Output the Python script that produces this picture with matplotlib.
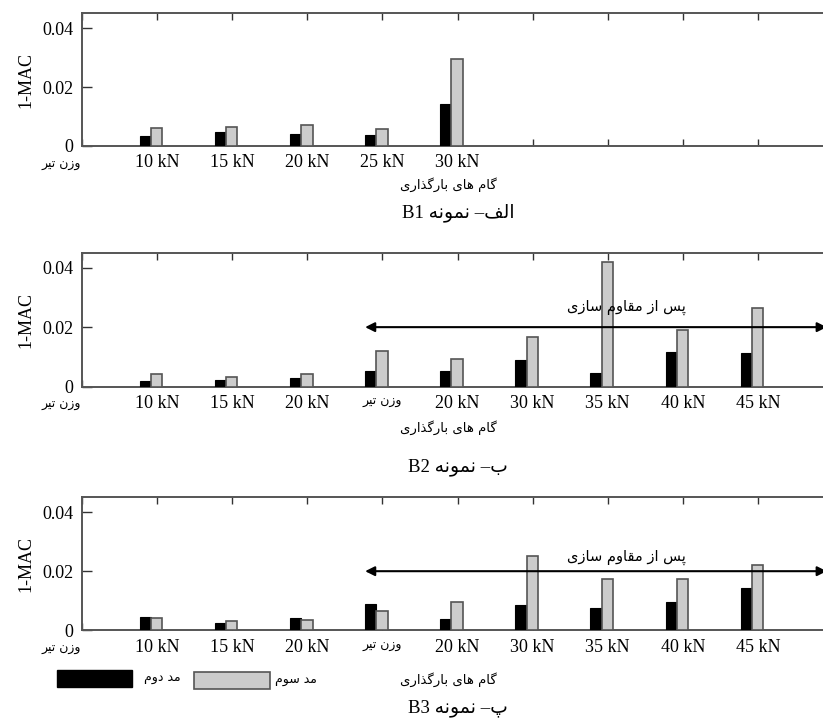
import numpy as np
import matplotlib
matplotlib.use("Agg")
import matplotlib.pyplot as plt
from matplotlib.patches import Rectangle

# ---------------- data ----------------
b1_labels = ["وزن تیر", "10 kN", "15 kN", "20 kN", "25 kN", "30 kN"]
b1_mode2 = [0.0034, 0.0047, 0.0042, 0.0038, 0.0142]
b1_mode3 = [0.0062, 0.0064, 0.0072, 0.0058, 0.0295]

b2_labels = ["وزن تیر", "10 kN", "15 kN", "20 kN", "وزن تیر", "20 kN", "30 kN", "35 kN", "40 kN", "45 kN"]
b2_mode2 = [0.0019, 0.0022, 0.0028, 0.0054, 0.0053, 0.0088, 0.0047, 0.0118, 0.0113]
b2_mode3 = [0.0044, 0.0031, 0.0044, 0.0120, 0.0093, 0.0166, 0.0419, 0.0192, 0.0264]

b3_labels = ["وزن تیر", "10 kN", "15 kN", "20 kN", "وزن تیر", "20 kN", "30 kN", "35 kN", "40 kN", "45 kN"]
b3_mode2 = [0.0044, 0.0024, 0.0043, 0.0088, 0.0038, 0.0084, 0.0076, 0.0097, 0.0142]
b3_mode3 = [0.0043, 0.0033, 0.0036, 0.0066, 0.0097, 0.0253, 0.0172, 0.0175, 0.0220]

y_ticks = [0, 0.02, 0.04]
y_ticklabels = ["0", "0.02", "0.04"]
y_label = "1-MAC"
x_title = "گام های بارگذاری"
captions = ["الف– نمونه", "ب– نمونه", "پ– نمونه"]
caption_ids = ["B1", "B2", "B3"]
after_text = "پس از مقاوم سازی"
legend_names = ["مد دوم", "مد سوم"]

# ---------------- simple Persian shaping (visual order) ----------------
FORMS = {
    'ا': (0xFE8D, 0xFE8E, None, None),
    'ب': (0xFE8F, 0xFE90, 0xFE91, 0xFE92),
    'پ': (0xFB56, 0xFB57, 0xFB58, 0xFB59),
    'ت': (0xFE95, 0xFE96, 0xFE97, 0xFE98),
    'د': (0xFEA9, 0xFEAA, None, None),
    'ذ': (0xFEAB, 0xFEAC, None, None),
    'ر': (0xFEAD, 0xFEAE, None, None),
    'ز': (0xFEAF, 0xFEB0, None, None),
    'س': (0xFEB1, 0xFEB2, 0xFEB3, 0xFEB4),
    'ف': (0xFED1, 0xFED2, 0xFED3, 0xFED4),
    'ق': (0xFED5, 0xFED6, 0xFED7, 0xFED8),
    'گ': (0xFB92, 0xFB93, 0xFB94, 0xFB95),
    'ل': (0xFEDD, 0xFEDE, 0xFEDF, 0xFEE0),
    'م': (0xFEE1, 0xFEE2, 0xFEE3, 0xFEE4),
    'ن': (0xFEE5, 0xFEE6, 0xFEE7, 0xFEE8),
    'ه': (0xFEE9, 0xFEEA, 0xFEEB, 0xFEEC),
    'و': (0xFEED, 0xFEEE, None, None),
    'ی': (0xFBFC, 0xFBFD, 0xFBFE, 0xFBFF),
}


def rtl(s):
    out = []
    for i, ch in enumerate(s):
        f = FORMS.get(ch)
        if f is None:
            out.append(ch)
            continue
        prev = s[i - 1] if i > 0 else ''
        nxt = s[i + 1] if i + 1 < len(s) else ''
        jp = prev in FORMS and FORMS[prev][2] is not None
        jn = f[2] is not None and nxt in FORMS
        if jp and jn:
            c = f[3]
        elif jp:
            c = f[1]
        elif jn:
            c = f[2]
        else:
            c = f[0]
        out.append(chr(c))
    return ''.join(reversed(out))


def is_persian(s):
    return any(ch in FORMS for ch in s)


# ---------------- figure ----------------
W, H = 823, 722
fig = plt.figure(figsize=(W / 100, H / 100), dpi=100)

SERIF = ['Liberation Serif', 'DejaVu Sans']
ARAB = ['DejaVu Sans']


def fx(x):
    return x / W


def fy(y):
    return 1 - y / H


LEFT_PX = 82
CAT_PX = 75.1
AX_W_PX = 750
XMAX = AX_W_PX / CAT_PX

panels = [
    dict(top=13.3, bottom=146.0, labels=b1_labels, m2=b1_mode2, m3=b1_mode3,
         arrow=False, xt_y=185, cap_y=213),
    dict(top=252.7, bottom=386.7, labels=b2_labels, m2=b2_mode2, m3=b2_mode3,
         arrow=True, txt_y=0.0268, xt_y=428, cap_y=467),
    dict(top=497.3, bottom=630.3, labels=b3_labels, m2=b3_mode2, m3=b3_mode3,
         arrow=True, txt_y=0.0248, xt_y=680, cap_y=708),
]

BW = 0.15
OFF = -0.08
SPINE = '#555555'

for k, p in enumerate(panels):
    ax = fig.add_axes([fx(LEFT_PX), fy(p['bottom']), AX_W_PX / W,
                       (p['bottom'] - p['top']) / H])
    n = len(p['m2'])
    xs = np.arange(1, n + 1)
    ax.bar(xs + OFF - BW / 2, p['m2'], width=BW, color='black',
           edgecolor='black', linewidth=0.8, zorder=3)
    ax.bar(xs + OFF + BW / 2, p['m3'], width=BW, color='#cccccc',
           edgecolor='#555555', linewidth=1.2, zorder=3)
    ax.set_xlim(0, XMAX)
    ax.set_ylim(0, 0.045)

    # x ticks (marks on top and bottom, inward); first category label drawn apart
    ax.set_xticks(np.arange(0, 10))
    labs = list(p['labels']) + [''] * (10 - len(p['labels']))
    shown = [''] + [rtl(l) if is_persian(l) else l for l in labs[1:]]
    ax.set_xticklabels(shown)
    for i, t in enumerate(ax.get_xticklabels()):
        if is_persian(labs[i]):
            t.set_fontfamily(ARAB)
            t.set_fontsize(9)
        else:
            t.set_fontfamily(SERIF)
            t.set_fontsize(13)
    ax.tick_params(axis='x', which='both', direction='in', top=True,
                   bottom=True, length=5, width=1.0, color='#333333', pad=6)
    ax.annotate(rtl(labs[0]), xy=(0, 0), xycoords='data',
                xytext=(-1, -13), textcoords='offset points',
                ha='right', va='center', fontfamily=ARAB, fontsize=9,
                annotation_clip=False)

    ax.set_yticks(y_ticks)
    ax.set_yticklabels(y_ticklabels)
    for t in ax.get_yticklabels():
        t.set_fontfamily(SERIF)
        t.set_fontsize(13)
    ax.tick_params(axis='y', direction='in', left=True, right=False,
                   length=7, width=1.0, color='#333333', pad=6)
    ax.set_ylabel(y_label, fontfamily=SERIF, fontsize=13)
    ax.yaxis.set_label_coords(-0.064, 0.5)

    for s in ax.spines.values():
        s.set_color(SPINE)
        s.set_linewidth(1.4)

    if p['arrow']:
        ax.annotate('', xy=(XMAX - 0.07, 0.02), xytext=(3.77, 0.02),
                    arrowprops=dict(arrowstyle='<|-|>', color='black', lw=1.5,
                                    mutation_scale=14, shrinkA=0, shrinkB=0),
                    zorder=5)
        ax.text(7.25, p['txt_y'], rtl(after_text), ha='center', va='center',
                fontfamily=ARAB, fontsize=10.5, zorder=6)

    # x title
    fig.text(fx(448), fy(p['xt_y']), rtl(x_title), ha='center', va='center',
             fontfamily=ARAB, fontsize=9.5)
    # caption
    fig.text(fx(458), fy(p['cap_y']), caption_ids[k] + ' ' + rtl(captions[k]),
             ha='center', va='center', fontfamily=SERIF, fontsize=13.5)

# legend (figure level)
fig.add_artist(Rectangle((fx(57), fy(687)), 75 / W, 17 / H, transform=fig.transFigure,
                         facecolor='black', edgecolor='black', lw=1))
fig.text(fx(162), fy(678), rtl(legend_names[0]), ha='center', va='center',
         fontfamily=ARAB, fontsize=9)
fig.add_artist(Rectangle((fx(194), fy(689)), 76 / W, 17 / H, transform=fig.transFigure,
                         facecolor='#cccccc', edgecolor='#555555', lw=1.2))
fig.text(fx(296), fy(680), rtl(legend_names[1]), ha='center', va='center',
         fontfamily=ARAB, fontsize=9)

fig.savefig('out.png', dpi=100)
